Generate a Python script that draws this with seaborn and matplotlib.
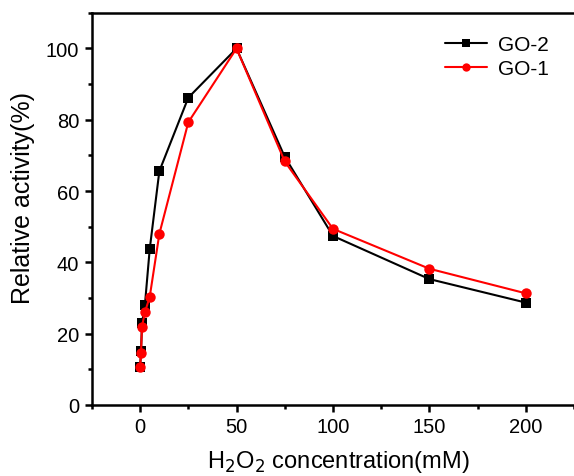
import matplotlib
matplotlib.use("Agg")
import matplotlib.pyplot as plt
import seaborn as sns
import pandas as pd
from matplotlib.ticker import MultipleLocator

conc = [0, 0.5, 1, 2.5, 5, 10, 25, 50, 75, 100, 150, 200]
go2 = [10.5, 15.0, 23.0, 28.0, 43.7, 65.6, 86.2, 100, 69.6, 47.4, 35.3, 28.7]
go1 = [10.5, 14.7, 22.0, 26.0, 30.3, 48.0, 79.3, 100, 68.3, 49.4, 38.2, 31.3]
series = ["GO-2", "GO-1"]

df = pd.concat([
    pd.DataFrame({"x": conc, "y": go2, "s": "GO-2"}),
    pd.DataFrame({"x": conc, "y": go1, "s": "GO-1"}),
])

sns.set_theme(style="ticks")
plt.rcParams['font.family'] = ['Liberation Sans', 'DejaVu Sans']
plt.rcParams['text.color'] = 'black'
plt.rcParams['axes.labelcolor'] = 'black'
plt.rcParams['xtick.color'] = 'black'
plt.rcParams['ytick.color'] = 'black'

fig = plt.figure(figsize=(5.74, 4.77), dpi=100)
ax = fig.add_axes([0.160, 0.149, 0.857, 0.822])

sns.lineplot(data=df, x="x", y="y", hue="s", style="s", hue_order=series, style_order=series,
             palette={"GO-2": "black", "GO-1": "red"},
             markers={"GO-2": "s", "GO-1": "o"}, dashes=False,
             markersize=7.5, markeredgewidth=0, linewidth=1.5, ax=ax, legend=True)

ax.set_xlim(-25, 230)
ax.set_ylim(0, 110)
ax.xaxis.set_major_locator(MultipleLocator(50))
ax.xaxis.set_minor_locator(MultipleLocator(25))
ax.yaxis.set_major_locator(MultipleLocator(20))
ax.yaxis.set_minor_locator(MultipleLocator(10))
ax.tick_params(which="major", length=5, width=1.8, labelsize=14.5, direction="out",
               colors="black", pad=4)
ax.tick_params(which="minor", length=3, width=1.8, direction="out", colors="black")
for sp in ax.spines.values():
    sp.set_linewidth(1.8)
    sp.set_color("black")

ax.set_xlabel("H$_2$O$_2$ concentration(mM)", fontsize=17, labelpad=8)
ax.set_ylabel("Relative activity(%)", fontsize=18, labelpad=8)
ax.yaxis.set_label_coords(-0.115, 0.53)

handles, labels = ax.get_legend_handles_labels()
for h in handles:
    h.set_markersize(6)
leg = ax.legend(handles, labels, frameon=False, loc="upper left", bbox_to_anchor=(0.702, 0.965),
                fontsize=15, handlelength=2.0, handletextpad=0.5, labelspacing=0.25,
                borderaxespad=0)

fig.savefig("out.png", dpi=100)
